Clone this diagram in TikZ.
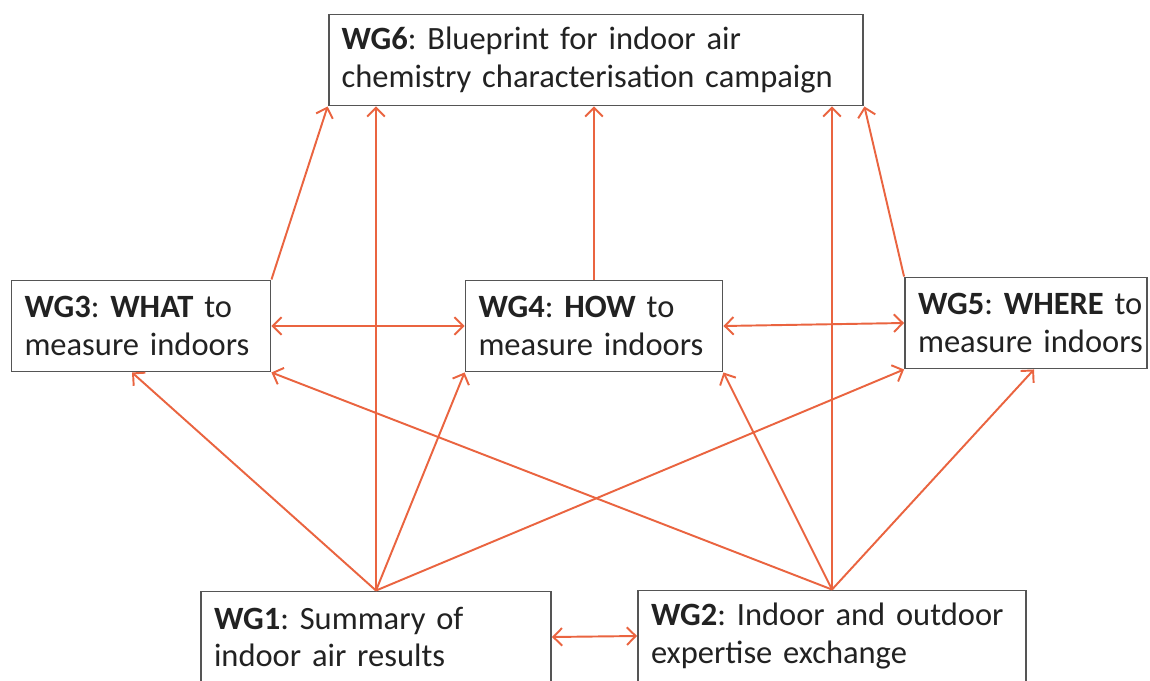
\documentclass[tikz,border=0pt]{standalone}
\usepackage{fontspec}
\setmainfont{Carlito}
\frenchspacing
\usetikzlibrary{arrows.meta,calc}
\definecolor{arrowred}{HTML}{EA6440}
\definecolor{boxgray}{HTML}{555555}
\definecolor{textgray}{HTML}{222222}
\newcommand\wgfont{\fontsize{18.5}{21.5}\selectfont}
\tikzset{
  wg/.style={draw=boxgray, line width=1.1pt, rectangle, inner xsep=0.26cm,
    minimum height=1.82cm, text width=#1, align=left, font=\wgfont, text=textgray},
  link/.style={draw=arrowred, line width=1.1pt, -{Straight Barb[length=5pt,width=10pt]}},
  duallink/.style={draw=arrowred, line width=1.1pt,
    {Straight Barb[length=5pt,width=10pt]}-{Straight Barb[length=5pt,width=10pt]}}
}
\begin{document}
\begin{tikzpicture}[x=0.02cm,y=-0.02cm]
\clip (0,0) rectangle (1150,680);
\fill[white] (0,0) rectangle (1150,680);

\node[wg=10.18cm] (WG6) at (596,60)
  {\mbox{\textbf{WG6}: Blueprint for indoor air}\\\mbox{chemistry characterisation campaign}};
\node[wg=4.66cm] (WG3) at (141,326)
  {\mbox{\textbf{WG3}: \textbf{WHAT} to}\\\mbox{measure indoors}};
\node[wg=4.62cm] (WG4) at (594,326)
  {\mbox{\textbf{WG4}: \textbf{HOW} to}\\\mbox{measure indoors}};
\node[wg=4.32cm] (WG5) at (1026,323)
  {\mbox{\textbf{WG5}: \textbf{WHERE} to}\\\mbox{measure indoors}};
\node[wg=6.48cm] (WG1) at (376,637)
  {\mbox{\textbf{WG1}: Summary of}\\\mbox{indoor air results}};
\node[wg=7.24cm] (WG2) at (832,636)
  {\mbox{\textbf{WG2}: Indoor and outdoor}\\\mbox{expertise exchange}};

% to WG6
\draw[link] (WG1.north) -- (WG1.north |- WG6.south);
\draw[link] (WG2.north) -- (WG2.north |- WG6.south);
\draw[link] (WG4.north) -- (WG4.north |- WG6.south);
\draw[link] (WG3.north east) -- (WG6.south west);
\draw[link] (WG5.north west) -- (WG6.south east);

% from WG1
\draw[link] (WG1.north) -- ($(WG3.south)+(-9,0)$);
\draw[link] (WG1.north) -- (WG4.south west);
\draw[link] (WG1.north) -- (WG5.south west);

% from WG2
\draw[link] (WG2.north) -- (WG3.south east);
\draw[link] (WG2.north) -- (WG4.south east);
\draw[link] (WG2.north) -- ($(WG5.south)+(8,0)$);

% two-way links
\draw[duallink] (WG3.east) -- (WG4.west);
\draw[duallink] (WG4.east) -- (WG5.west);
\draw[duallink] (WG1.east) -- (WG2.west);
\end{tikzpicture}
\end{document}
